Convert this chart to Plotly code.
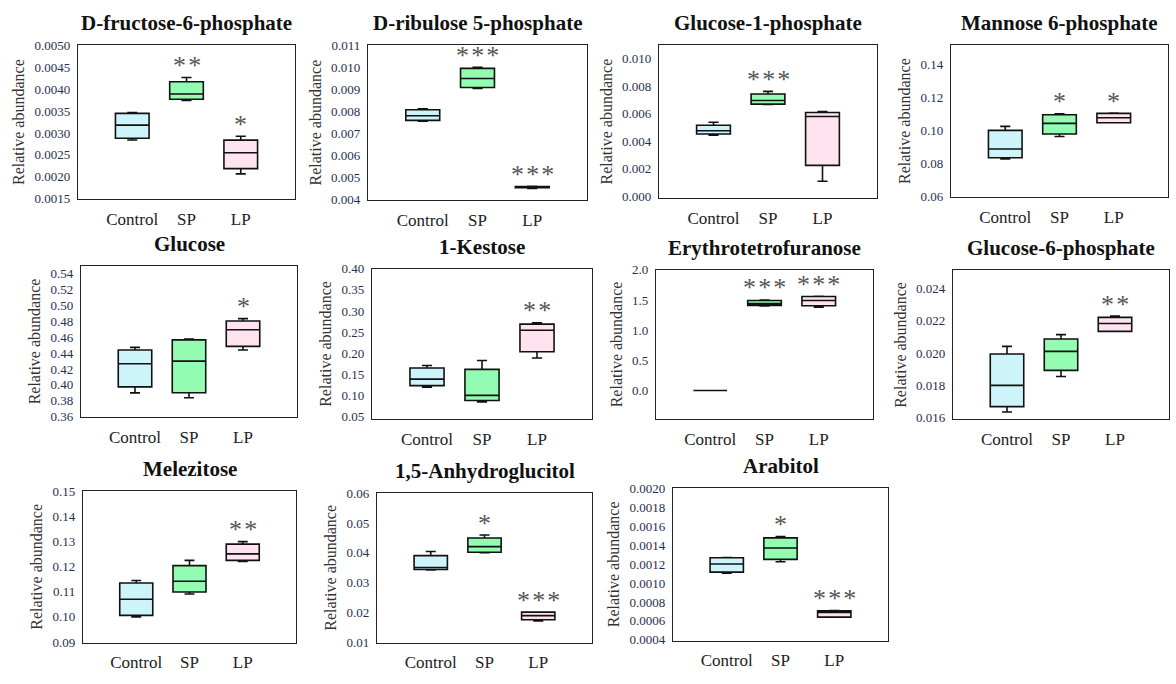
import plotly.graph_objects as go

W, H = 1176, 684

metabolites = ["D-fructose-6-phosphate", "D-ribulose 5-phosphate", "Glucose-1-phosphate",
               "Mannose 6-phosphate", "Glucose", "1-Kestose", "Erythrotetrofuranose",
               "Glucose-6-phosphate", "Melezitose", "1,5-Anhydroglucitol", "Arabitol"]
groups = ["Control", "SP", "LP"]

# box statistics per metabolite: [lower whisker, q1, median, q3, upper whisker]
control_stats = [
    [0.00284, 0.00288, 0.00318, 0.00345, 0.00347],
    [0.00756, 0.00760, 0.00781, 0.00808, 0.00812],
    [0.00443, 0.00452, 0.00476, 0.00516, 0.00538],
    [0.0827, 0.0835, 0.0888, 0.1001, 0.1025],
    [0.390, 0.3975, 0.4267, 0.4440, 0.4473],
    [0.1200, 0.1238, 0.1392, 0.1654, 0.1715],
    [0.0, 0.0, 0.0, 0.0, 0.0],
    [0.01634, 0.01667, 0.01799, 0.01994, 0.02041],
    [0.1000, 0.1006, 0.1070, 0.1135, 0.1145],
    [0.0343, 0.0344, 0.0351, 0.0391, 0.0405],
    [0.001105, 0.001115, 0.001201, 0.001267, 0.00127],
]
sp_stats = [
    [0.003745, 0.003774, 0.003892, 0.004175, 0.004271],
    [0.009044, 0.009088, 0.009501, 0.009959, 0.010004],
    [0.00668, 0.00670, 0.00697, 0.00744, 0.00763],
    [0.0964, 0.0979, 0.1043, 0.1096, 0.1102],
    [0.3839, 0.3901, 0.4300, 0.4568, 0.4580],
    [0.0854, 0.0885, 0.1008, 0.1623, 0.1831],
    [1.40, 1.41, 1.44, 1.49, 1.50],
    [0.01854, 0.01892, 0.02010, 0.02087, 0.02114],
    [0.1091, 0.1099, 0.1142, 0.1204, 0.1225],
    [0.0401, 0.0402, 0.0421, 0.0450, 0.0460],
    [0.001225, 0.001250, 0.001370, 0.001477, 0.001491],
]
lp_stats = [
    [0.002065, 0.002184, 0.002548, 0.002838, 0.002927],
    [0.00451, 0.00455, 0.00457, 0.00460, 0.00461],
    [0.00107, 0.00223, 0.00580, 0.00609, 0.00616],
    [0.1047, 0.1047, 0.1077, 0.1104, 0.1106],
    [0.4440, 0.4486, 0.4696, 0.4807, 0.4836],
    [0.1892, 0.2038, 0.2546, 0.2692, 0.2723],
    [1.378, 1.405, 1.492, 1.557, 1.56],
    [0.02134, 0.02134, 0.02183, 0.02221, 0.02229],
    [0.1221, 0.1225, 0.1251, 0.1290, 0.1300],
    [0.0171, 0.0175, 0.0189, 0.0201, 0.0201],
    [0.00064, 0.00064, 0.000688, 0.000706, 0.00071],
]
sig_sp = ["**", "***", "***", "*", "", "", "***", "", "", "*", "*"]
sig_lp = ["*", "***", "", "*", "*", "**", "***", "**", "**", "***", "***"]

y_ranges = [[0.00149, 0.00501], [0.00399, 0.01101], [-0.00015, 0.011], [0.0597, 0.1517],
            [0.359, 0.5505], [0.044, 0.4005], [-0.48, 2.005], [0.01588, 0.02512],
            [0.0897, 0.1502], [0.0098, 0.0602], [0.00039, 0.002005]]
y_dticks = [0.0005, 0.001, 0.002, 0.02, 0.02, 0.05, 0.5, 0.002, 0.01, 0.01, 0.0002]
y_tick0 = [0.0015, 0.004, 0.0, 0.06, 0.36, 0.05, 0.0, 0.016, 0.09, 0.01, 0.0004]
y_formats = [".4f", ".3f", ".3f", ".2f", ".2f", ".2f", ".1f", ".3f", ".2f", ".2f", ".4f"]

# panel boxes in pixels: left, right, top, bottom
panels = [(78, 295, 39, 196), (368, 587, 39, 197), (659, 877, 39, 195), (951, 1168, 39, 194),
          (81, 297, 264, 419), (372, 592, 267, 421), (656, 873, 268, 421), (953, 1169, 269, 421),
          (83, 296, 494, 649), (377, 592, 496, 649), (673, 888, 491, 647)]

colors = {"Control": "#CDF3FB", "SP": "#94FBB2", "LP": "#FFE3EE"}
SERIF = "Liberation Serif"
HAIR = "\u200a"

fig = go.Figure()
layout = {}
annotations = []
for i, name in enumerate(metabolites):
    n = i + 1
    xa = "x" if n == 1 else f"x{n}"
    ya = "y" if n == 1 else f"y{n}"
    L, R, T, B = panels[i]
    stats = {"Control": control_stats[i], "SP": sp_stats[i], "LP": lp_stats[i]}
    for g in groups:
        lo, q1, md, q3, hi = stats[g]
        fig.add_trace(go.Box(
            x=[g], q1=[q1], median=[md], q3=[q3], lowerfence=[lo], upperfence=[hi],
            fillcolor=colors[g], line=dict(color="#111111", width=1.6),
            whiskerwidth=0.3, width=0.62, boxpoints=False, showlegend=False,
            xaxis=xa, yaxis=ya, hoverinfo="skip"))
    layout["xaxis" if n == 1 else f"xaxis{n}"] = dict(
        domain=[L / W, R / W], anchor=ya, type="category",
        categoryorder="array", categoryarray=groups, range=[-1, 3],
        showline=True, mirror=True, linecolor="#222", linewidth=1.3,
        showgrid=False, zeroline=False, ticks="", ticklabelstandoff=4,
        tickfont=dict(family=SERIF, size=17, color="#222"))
    layout["yaxis" if n == 1 else f"yaxis{n}"] = dict(
        domain=[1 - B / H, 1 - T / H], anchor=xa, range=y_ranges[i],
        tick0=y_tick0[i], dtick=y_dticks[i], tickformat=y_formats[i],
        showline=True, mirror=True, linecolor="#222", linewidth=1.3,
        showgrid=False, zeroline=False, ticks="", ticklabelstandoff=4,
        tickfont=dict(family=SERIF, size=13, color="#1f2f4f"),
        title=dict(text="Relative abundance", standoff=5,
                   font=dict(family=SERIF, size=16, color="#333")))
    annotations.append(dict(
        text=f"<b>{name}</b>", xref="paper", yref="paper",
        x=(L + R) / 2 / W, y=1 - T / H, xanchor="center", yanchor="bottom",
        yshift=8, showarrow=False, font=dict(family=SERIF, size=21, color="#111")))
    for g, s in (("SP", sig_sp[i]), ("LP", sig_lp[i])):
        if s:
            annotations.append(dict(
                text=HAIR.join(s), xref=xa, yref=ya, x=g, y=stats[g][4],
                xanchor="center", yanchor="middle", yshift=12, showarrow=False,
                font=dict(family=SERIF, size=26, color="#555")))

fig.update_layout(
    width=W, height=H, autosize=False,
    margin=dict(l=0, r=0, t=0, b=0),
    paper_bgcolor="white", plot_bgcolor="white",
    annotations=annotations, **layout)

fig.write_html("out.html", config={"displayModeBar": False},
               post_script="document.body.style.margin='0';")
